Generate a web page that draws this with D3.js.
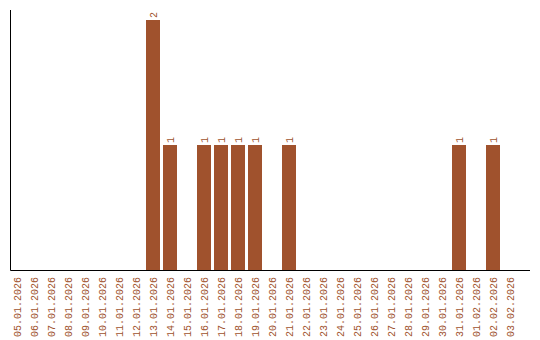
<!DOCTYPE html>
<html>
<head>
<meta charset="utf-8">
<script src="https://cdn.jsdelivr.net/npm/d3@7"></script>
<style>
  html, body { margin: 0; padding: 0; background: #fff; }
  svg text { font-family: 'Liberation Mono', monospace; font-size: 10px; fill: #a0522d; }
</style>
</head>
<body>
<div id="chart"></div>
<script>
const dates = [
  '05.01.2026', '06.01.2026', '07.01.2026', '08.01.2026', '09.01.2026', '10.01.2026',
  '11.01.2026', '12.01.2026', '13.01.2026', '14.01.2026', '15.01.2026', '16.01.2026',
  '17.01.2026', '18.01.2026', '19.01.2026', '20.01.2026', '21.01.2026', '22.01.2026',
  '23.01.2026', '24.01.2026', '25.01.2026', '26.01.2026', '27.01.2026', '28.01.2026',
  '29.01.2026', '30.01.2026', '31.01.2026', '01.02.2026', '02.02.2026', '03.02.2026'
]
const counts = [
  0, 0, 0, 0, 0, 0,
  0, 0, 2, 1, 0, 1,
  1, 1, 1, 0, 1, 0,
  0, 0, 0, 0, 0, 0,
  0, 0, 1, 0, 1, 0
]

const WIDTH = 540, HEIGHT = 340
const AXIS_X = 10.5, AXIS_Y = 270.5, TOP = 10, RIGHT = 530
const COLOR = '#a0522d'
const FONT = "'Liberation Mono', monospace"

const svg = d3.select('#chart').append('svg')
  .attr('width', WIDTH)
  .attr('height', HEIGHT)

const pad = 3 / 17
const x = d3.scaleBand().domain(dates).range([8.5, 518.5])
  .paddingInner(pad).paddingOuter(pad / 2)
const y = d3.scaleLinear().domain([0, d3.max(counts) * 1.04]).range([270, TOP])

const data = dates.map((d, i) => ({ date: d, value: counts[i] }))

// ── bars ─────────────────────────────────────────────────────
svg.append('g').selectAll('rect')
  .data(data.filter(d => d.value > 0))
  .join('rect')
  .attr('x', d => x(d.date))
  .attr('y', d => y(d.value))
  .attr('width', x.bandwidth())
  .attr('height', d => y(0) - y(d.value))
  .attr('fill', COLOR)

// ── value labels ─────────────────────────────────────────────
svg.append('g').selectAll('text')
  .data(data.filter(d => d.value > 0))
  .join('text')
  .attr('transform', d => `translate(${x(d.date) + x.bandwidth() / 2},${y(d.value) - 2}) rotate(-90)`)
  .attr('dy', '0.35em')
  .attr('text-anchor', 'start')
  .text(d => d.value)

// ── axes ─────────────────────────────────────────────────────
const gx = svg.append('g').attr('transform', `translate(0,${AXIS_Y})`)
gx.call(d3.axisBottom(x).tickSize(0).tickPadding(0))
gx.select('.domain').remove()
gx.selectAll('text')
  .attr('y', 0)
  .attr('dy', '0.35em')
  .attr('transform', 'translate(0,6.5) rotate(-90)')
  .attr('text-anchor', 'end')
  .style('font-family', FONT)
  .style('font-size', '10px')
  .attr('fill', COLOR)

svg.append('line')
  .attr('x1', AXIS_X).attr('x2', RIGHT)
  .attr('y1', AXIS_Y).attr('y2', AXIS_Y)
  .attr('stroke', '#000')

svg.append('line')
  .attr('x1', AXIS_X).attr('x2', AXIS_X)
  .attr('y1', TOP).attr('y2', AXIS_Y)
  .attr('stroke', '#000')
</script>
</body>
</html>
